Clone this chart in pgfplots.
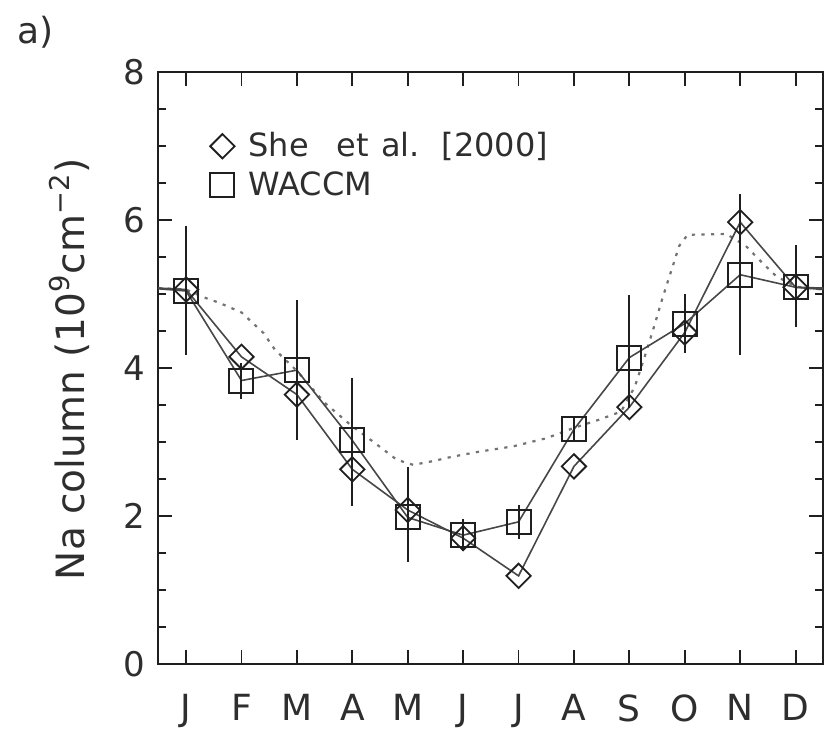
\documentclass[border=0pt]{standalone}
\usepackage{fontspec}
\setmainfont{DejaVu Sans}
\usepackage{pgfplots}
\pgfplotsset{compat=1.18}
\usetikzlibrary{calc}
\definecolor{linegray}{gray}{0.28}
\definecolor{dotgray}{gray}{0.45}
\definecolor{ink}{gray}{0.12}
\begin{document}
\begin{tikzpicture}
\begin{axis}[
  scale only axis, width=332.5pt, height=296pt,
  xmin=0.5, xmax=12.5, ymin=0, ymax=8,
  xtick={1,...,12}, xticklabels={J,F,M,A,M,J,J,A,S,O,N,D},
  ytick={0,2,4,6,8}, minor y tick num=3,
  tick align=inside, major tick length=7pt, minor tick length=4pt,
  axis line style={line width=1pt, ink},
  every tick/.style={line width=0.9pt, ink},
  /pgf/number format/assume math mode=true,
  tick label style={font=\fontsize{17}{20}\selectfont, text=black!82},
  yticklabel style={anchor=east, inner sep=0pt, xshift=-6.6pt},
  xticklabel style={anchor=north, inner sep=0pt, yshift=-15pt, font=\fontsize{18}{20}\selectfont},
  ylabel={Na column\hspace{0.35em}(10\textsuperscript{9}cm\textsuperscript{−2})},
  ylabel style={at={(axis description cs:-0.134,0.498)}, anchor=center, font=\fontsize{19.5}{22}\selectfont, text=black!82},
  legend style={at={(axis description cs:0.078,0.901)}, anchor=north west, draw=none, fill=none,
    inner sep=0pt, outer sep=0pt, nodes={inner sep=1pt, text=black!82}, column sep=6pt, row sep=4pt,
    font=\fontsize{16}{19}\selectfont},
  legend cell align=left,
  legend image code/.code={\draw[#1] plot coordinates {(0pt,0pt)};},
]
\addlegendimage{only marks, mark=square, mark size=4.3pt, mark options={rotate=45, line width=0.9pt, ink}}
\addlegendentry{She\hspace{14pt}et\hspace{6pt}al.\hspace{11pt}[2000]}
\addlegendimage{only marks, mark=square, mark size=6pt, mark options={line width=1pt, ink}}
\addlegendentry{WACCM}

% dotted curve
\addplot[forget plot, dotgray, line width=1.1pt, dash pattern=on 1.6pt off 3.2pt] coordinates {
(0.5,5.08) (1,5.06) (1.3,4.96) (1.6,4.88) (2.0,4.75) (2.4,4.47) (2.6,4.25) (3.0,3.96) (3.5,3.53)
(4.0,3.21) (4.4,2.99) (4.8,2.76) (5.1,2.69) (5.45,2.74) (5.8,2.80) (6.3,2.87) (6.9,2.94)
(7.5,3.05) (8.0,3.19) (8.45,3.30) (8.85,3.41) (9.1,3.75) (9.28,4.16) (9.45,4.57) (9.6,4.95)
(9.75,5.30) (9.9,5.65) (10.05,5.80) (10.75,5.81) (11.1,5.65) (11.4,5.42) (11.65,5.24) (12,5.10) (12.5,5.06)};

% She et al. line
\addplot[forget plot, linegray, line width=0.8pt] coordinates {
(0.5,5.08) (1,5.06) (2,4.15) (3,3.64) (4,2.63) (5,2.08) (6,1.70) (7,1.19) (8,2.67) (9,3.47) (10,4.48) (11,5.97) (12,5.09) (12.5,5.08)};
% WACCM line
\addplot[forget plot, linegray, line width=0.8pt] coordinates {
(0.5,5.07) (1,5.04) (2,3.83) (3,3.97) (4,3.02) (5,1.98) (6,1.74) (7,1.92) (8,3.17) (9,4.14) (10,4.60) (11,5.26) (12,5.09) (12.5,5.06)};

% She et al. markers
\addplot[forget plot, only marks, mark=square, mark size=4.3pt, mark options={rotate=45, line width=0.9pt, ink}] coordinates {
(1,5.06) (2,4.15) (3,3.64) (4,2.63) (5,2.08) (6,1.70) (7,1.19) (8,2.67) (9,3.47) (10,4.48) (11,5.97) (12,5.09)};

% WACCM markers with error bars
\addplot[forget plot, only marks, mark=square, mark size=6pt, mark options={line width=1pt, ink},
  error bars/.cd, y dir=both, y explicit, error mark=none,
  error bar style={line width=1pt, ink}] coordinates {
(1,5.04) +=(0,0.88) -=(0,0.86)
(2,3.83) +=(0,0.24) -=(0,0.25)
(3,3.97) +=(0,0.95) -=(0,0.95)
(4,3.02) +=(0,0.85) -=(0,0.88)
(5,1.98) +=(0,0.68) -=(0,0.60)
(6,1.74) +=(0,0.22) -=(0,0.22)
(7,1.92) +=(0,0.23) -=(0,0.23)
(8,3.17) +=(0,0.15) -=(0,0.15)
(9,4.14) +=(0,0.84) -=(0,0.68)
(10,4.60) +=(0,0.40) -=(0,0.40)
(11,5.26) +=(0,1.09) -=(0,1.08)
(12,5.09) +=(0,0.57) -=(0,0.53)};
\end{axis}
\node[font=\fontsize{18}{20}\selectfont, text=black!82] at ($(current axis.north west)+(-61.6pt,20pt)$) {a)};
\pgfresetboundingbox
\path[use as bounding box] ($(current axis.south west)+(-79.2pt,-33.5pt)$) rectangle ($(current axis.north east)+(1.85pt,36pt)$);
\end{tikzpicture}
\end{document}
